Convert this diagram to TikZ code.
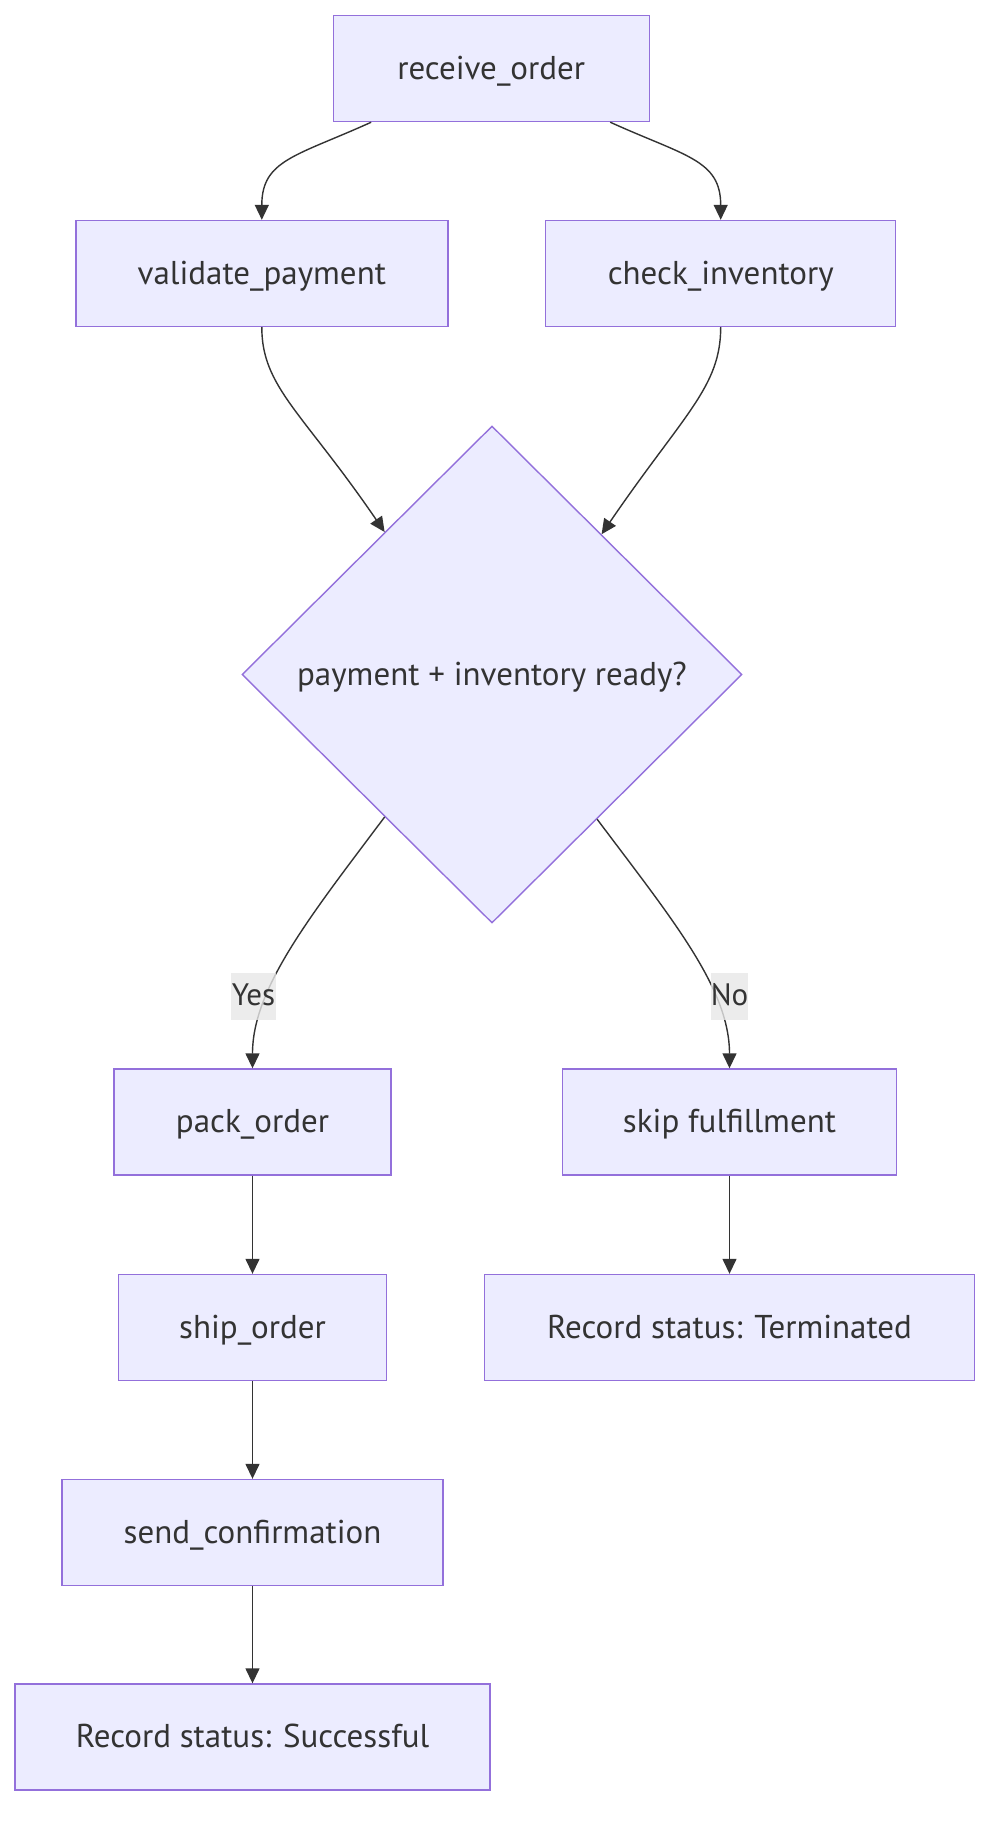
\documentclass[tikz,border=0pt]{standalone}
\usepackage{fontspec}
\setmainfont{PT Sans}
\usetikzlibrary{arrows.meta,shapes.geometric}
\definecolor{nodefill}{HTML}{ECECFF}
\definecolor{nodeline}{HTML}{9370DB}
\definecolor{ink}{HTML}{333333}
\definecolor{lblfill}{HTML}{E8E8E8}
\tikzset{
  box/.style={draw=nodeline, fill=nodefill, line width=1.4pt, inner sep=0pt,
    text height=24pt, text depth=3pt,
    minimum height=106pt, text=ink, font=\fontsize{33}{38}\selectfont},
  decision/.style={diamond, draw=nodeline, fill=nodefill, line width=1.4pt, inner sep=0pt,
    text height=24pt, text depth=3pt,
    minimum width=500pt, minimum height=497pt, text=ink, font=\fontsize{33}{38}\selectfont},
  conn/.style={draw=ink, line width=1.4pt, -{Triangle[length=15pt,width=14pt]}},
  lbl/.style={fill=lblfill, fill opacity=0.8, text opacity=1, text=ink, inner xsep=0pt,
    inner ysep=0pt, text height=22pt, text depth=5pt,
    minimum height=47pt, font=\fontsize{31}{36}\selectfont}
}
\begin{document}
\begin{tikzpicture}[x=1pt,y=-1pt]
\useasboundingbox[fill=white] (0,0) rectangle (1006,1834);
\node[box, minimum width=316pt] (ro) at (491.2,68.5) {receive\_order};
\node[box, minimum width=372pt] (vp) at (261.8,273.5) {validate\_payment};
\node[box, minimum width=350pt] (ci) at (720.7,273.5) {check\_inventory};
\node[decision] (dec) at (492,674.5) {payment + inventory ready?};
\node[box, minimum width=277pt] (po) at (252.5,1122) {pack\_order};
\node[box, minimum width=334pt] (sf) at (729.5,1122) {skip fulfillment};
\node[box, minimum width=268pt] (so) at (252.5,1327.5) {ship\_order};
\node[box, minimum width=490pt] (rt) at (729.5,1327.5) {Record status: Terminated};
\node[box, minimum width=381pt] (sc) at (252.5,1532.5) {send\_confirmation};
\node[box, minimum width=475pt] (rs) at (252.5,1737) {Record status: Successful};

\draw[conn] ([xshift=-120pt]ro.south) .. controls +(-75,34) and +(0,-60) .. (vp.north);
\draw[conn] ([xshift=119pt]ro.south) .. controls +(75,34) and +(0,-60) .. (ci.north);
\draw[conn] (vp.south) .. controls +(0,60) and +(-82,-120) .. (dec.127.7);
\draw[conn] (ci.south) .. controls +(0,60) and +(82,-120) .. (dec.52.3);
\draw[conn] (dec.233.2) .. controls +(-75,100) and +(0,-80) .. (po.north);
\draw[conn] (dec.306.8) .. controls +(75,100) and +(0,-80) .. (sf.north);
\draw[conn] (po.south) -- (so.north);
\draw[conn] (so.south) -- (sc.north);
\draw[conn] (sc.south) -- (rs.north);
\draw[conn] (sf.south) -- (rt.north);

\node[lbl, minimum width=45pt] (yes) at (253.5,996.5) {Yes};
\node[lbl, minimum width=37pt] (no) at (729.5,996.5) {No};
\end{tikzpicture}
\end{document}
